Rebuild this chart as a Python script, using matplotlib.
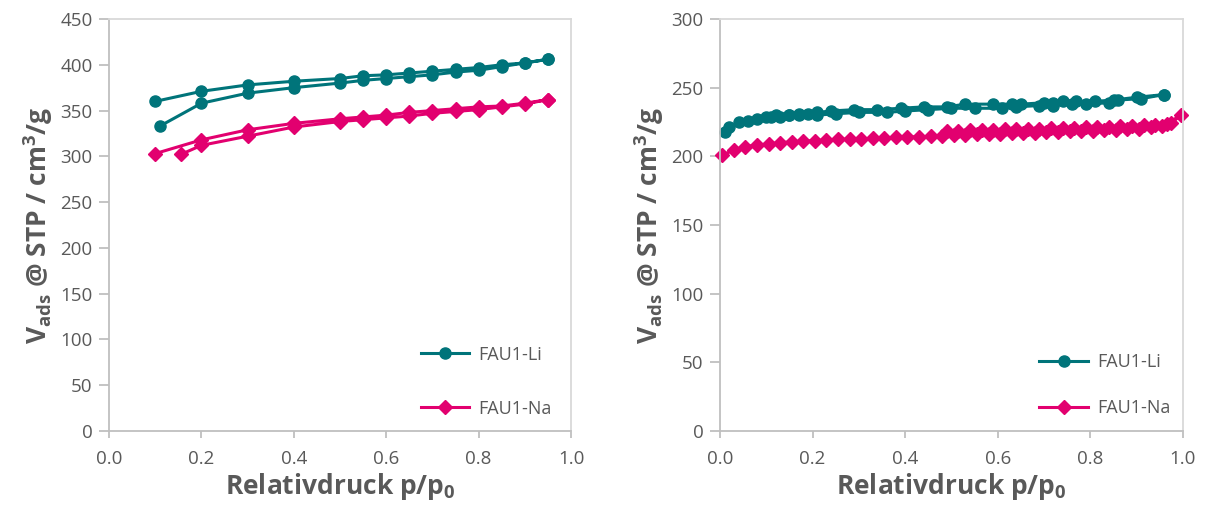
import numpy as np
import matplotlib
matplotlib.use("Agg")
import matplotlib.pyplot as plt

plt.rcParams['font.family'] = ['Open Sans', 'DejaVu Sans']
plt.rcParams['mathtext.fontset'] = 'custom'
plt.rcParams['mathtext.rm'] = 'Open Sans:bold'
plt.rcParams['mathtext.bf'] = 'Open Sans:bold'
plt.rcParams['mathtext.default'] = 'bf'

# --- left panel: N2 isotherms, adsorption + desorption ---
li_ads_x = [0.11, 0.20, 0.30, 0.40, 0.50, 0.55, 0.60, 0.65, 0.70, 0.75, 0.80, 0.85, 0.90, 0.95]
li_ads_y = [333, 358, 369, 375, 380, 383, 385, 387, 389, 392, 394, 398, 402, 406]
li_des_x = [0.95, 0.90, 0.85, 0.80, 0.75, 0.70, 0.65, 0.60, 0.55, 0.50, 0.40, 0.30, 0.20, 0.10]
li_des_y = [406, 402, 400, 397, 395, 393, 391, 389, 388, 385, 382, 378, 371, 360]

na_ads_x = [0.155, 0.20, 0.30, 0.40, 0.50, 0.55, 0.60, 0.65, 0.70, 0.75, 0.80, 0.85, 0.90, 0.95]
na_ads_y = [302, 312, 322, 332, 338, 340, 342, 344, 347, 349, 351, 354, 357, 362]
na_des_x = [0.95, 0.90, 0.85, 0.80, 0.75, 0.70, 0.65, 0.60, 0.55, 0.50, 0.40, 0.30, 0.20, 0.10]
na_des_y = [362, 358, 355, 354, 352, 350, 348, 345, 343, 341, 336, 329, 318, 303]

# --- right panel ---
li2_ads_x = [0.01, 0.02, 0.04, 0.06, 0.08, 0.10, 0.13, 0.15, 0.17, 0.19, 0.21, 0.25, 0.30,
             0.36, 0.40, 0.45, 0.50, 0.55, 0.61, 0.64, 0.69, 0.72, 0.76, 0.79, 0.84,
             0.86, 0.91, 0.96]
li2_ads_y = [218, 221, 225, 226, 227, 229, 229, 230, 230, 231, 230, 231, 232,
             232, 233, 234, 235, 235, 235, 236, 237, 237, 238, 238, 239,
             241, 242, 245]
li2_des_x = [0.96, 0.90, 0.85, 0.81, 0.77, 0.74, 0.72, 0.70, 0.65, 0.63, 0.59, 0.53,
             0.49, 0.44, 0.39, 0.34, 0.29, 0.24, 0.21, 0.17, 0.15, 0.12, 0.11]
li2_des_y = [245, 243, 241, 240, 240, 240, 239, 239, 238, 238, 238, 238,
             236, 236, 235, 234, 234, 233, 232, 231, 230, 230, 229]

na2_ads_x = [0.005, 0.03, 0.055, 0.08, 0.105, 0.13, 0.155, 0.18, 0.205, 0.23, 0.255, 0.28,
             0.305, 0.33, 0.355, 0.38, 0.405, 0.43, 0.455, 0.48, 0.505, 0.53, 0.555,
             0.58, 0.605, 0.63, 0.655, 0.68, 0.705, 0.73, 0.755, 0.78, 0.805, 0.83,
             0.855, 0.88, 0.905, 0.93, 0.955, 0.975, 0.995]
na2_ads_y = [201, 204.5, 207, 208.3, 209, 210, 210.5, 211, 211.4, 211.9, 212.3, 212.5,
             212.7, 213.1, 213.4, 213.8, 214, 214.3, 214.5, 215, 215.3, 215.6, 215.9,
             216.2, 216.5, 216.8, 217, 217.3, 217.6, 217.9, 218.1, 218.4, 218.7, 219,
             219.3, 219.7, 220.2, 221, 222, 224, 230]
na2_des_x = [0.965, 0.94, 0.915, 0.89, 0.865, 0.84, 0.815, 0.79, 0.765, 0.74, 0.715,
             0.69, 0.665, 0.64, 0.615, 0.59, 0.565, 0.54, 0.515, 0.49]
na2_des_y = [223.5, 223, 222.5, 222.2, 221.9, 221.6, 221.3, 221, 220.8, 220.6, 220.4,
             220.2, 220, 219.8, 219.6, 219.4, 219.2, 219, 218.7, 218.3]

teal = '#00747A'
pink = '#E2006F'
grey_txt = '#595959'

fig = plt.figure(figsize=(12.05, 5.09), dpi=100)
ax1 = fig.add_axes([0.0905, 0.1532, 0.3834, 0.8095])
ax2 = fig.add_axes([0.5975, 0.1532, 0.3842, 0.8095])


def style(ax, ymax, leg_x, leg_y, spacing):
    ax.set_xlim(0, 1)
    ax.set_ylim(0, ymax)
    ax.set_xticks(np.arange(0, 1.01, 0.2))
    ax.set_yticks(np.arange(0, ymax + 1, 50))
    ax.xaxis.set_major_formatter(matplotlib.ticker.FormatStrFormatter('%.1f'))
    for s in ['left', 'bottom']:
        ax.spines[s].set_color('#BFBFBF')
        ax.spines[s].set_linewidth(1.3)
    for s in ['top', 'right']:
        ax.spines[s].set_color('#D9D9D9')
        ax.spines[s].set_linewidth(1.3)
    ax.tick_params(axis='both', colors='#BFBFBF', labelcolor=grey_txt,
                   labelsize=13.5, width=1.3)
    ax.tick_params(axis='y', length=7, pad=5)
    ax.tick_params(axis='x', length=5, pad=9)
    ax.set_xlabel('Relativdruck p/p$_{0}$', fontsize=19, fontweight='bold',
                  color=grey_txt, labelpad=2)
    ax.set_ylabel('V$_{ads}$ @ STP / cm$^{3}$/g', fontsize=19, fontweight='bold',
                  color=grey_txt, labelpad=4)
    ax.legend(loc='center left', bbox_to_anchor=(leg_x, leg_y), frameon=False,
              fontsize=13, labelcolor=grey_txt, borderpad=0, handlelength=2.7,
              handletextpad=0.5, labelspacing=spacing)


kw = dict(lw=2.2, ms=8, clip_on=False)
ax1.plot(li_ads_x + li_des_x, li_ads_y + li_des_y, '-o', color=teal, label='FAU1-Li', **kw)
ax1.plot(na_ads_x + na_des_x, na_ads_y + na_des_y, '-D', color=pink, label='FAU1-Na',
         lw=2.2, ms=7, clip_on=False)
style(ax1, 450, 0.655, 0.12, 2.0)

ax2.plot(li2_ads_x + li2_des_x, li2_ads_y + li2_des_y, '-o', color=teal, label='FAU1-Li', **kw)
ax2.plot(na2_ads_x + na2_des_x, na2_ads_y + na2_des_y, '-D', color=pink, label='FAU1-Na',
         lw=2.2, ms=7, clip_on=False)
style(ax2, 300, 0.67, 0.112, 1.55)

fig.savefig('out.png', dpi=100)
